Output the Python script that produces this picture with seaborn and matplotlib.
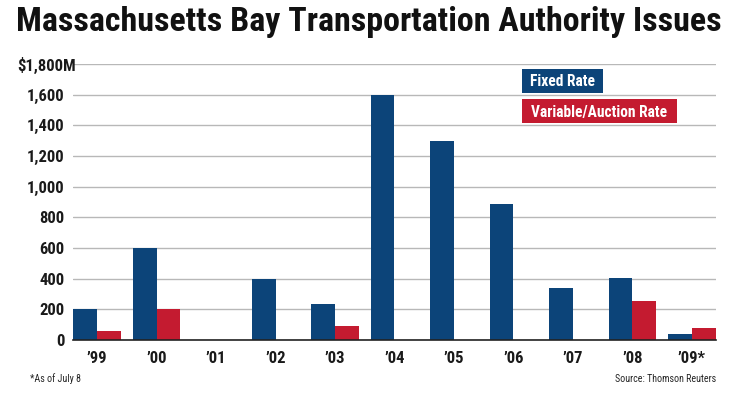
import pandas as pd
import matplotlib.pyplot as plt
import matplotlib.transforms as mtransforms
from matplotlib.patches import Rectangle
import seaborn as sns

# Values ($ millions)
years = ["\u201999", "\u201900", "\u201901", "\u201902", "\u201903", "\u201904",
         "\u201905", "\u201906", "\u201907", "\u201908", "\u201909*"]
fixed_rate = [200, 600, 0, 400, 238, 1600, 1300, 890, 340, 405, 38]
variable_rate = [62, 200, 0, 0, 93, 0, 0, 0, 0, 255, 78]
series = ["Fixed Rate", "Variable/Auction Rate"]
colors = ["#0c4479", "#c41b30"]
y_ticks = [0, 200, 400, 600, 800, 1000, 1200, 1400, 1600, 1800]
y_labels = ["0", "200", "400", "600", "800", "1,000", "1,200", "1,400", "1,600", "$1,800M"]

data = pd.DataFrame({
    "Year": years * 2,
    "Amount": fixed_rate + variable_rate,
    "Type": [series[0]] * len(years) + [series[1]] * len(years),
})

sns.set_style("white")
plt.rcParams["font.family"] = ["Roboto Condensed", "Roboto", "DejaVu Sans"]

W, H = 740, 398
fig = plt.figure(figsize=(W / 100, H / 100), dpi=100)
ax = fig.add_axes([0.0986, 0.1457, 0.8690, 0.6935])

sns.barplot(data=data, x="Year", y="Amount", hue="Type", palette=colors,
            saturation=1, width=0.8, dodge=True, legend=False, ax=ax,
            linewidth=0, zorder=3)

ax.set_xlim(-0.405, 10.405)
ax.set_ylim(0, 1800)
ax.set_yticks(y_ticks)
ax.set_yticklabels(y_labels)
ax.set_xlabel("")
ax.set_ylabel("")
ax.grid(axis="y", color="#b8b8b8", linewidth=1, zorder=0)
ax.tick_params(axis="both", length=0, labelsize=12)
ax.tick_params(axis="y", pad=6)
ax.tick_params(axis="x", pad=8)
for lab in ax.get_xticklabels() + ax.get_yticklabels():
    lab.set_fontweight("bold")
    lab.set_color("#1a1a1a")
# the top label sits further right, as in the reference
top_lab = ax.get_yticklabels()[-1]
top_lab.set_transform(top_lab.get_transform() +
                      mtransforms.ScaledTranslation(11 / 100, 0, fig.dpi_scale_trans))
for side in ["top", "right", "left"]:
    ax.spines[side].set_visible(False)
ax.spines["bottom"].set_color("#222222")
ax.spines["bottom"].set_linewidth(1.2)
ax.spines["bottom"].set_zorder(4)

# legend drawn as coloured boxes with white labels (pixel boxes from the reference)
legend_boxes = [(522, 69, 81, 24), (522, 99, 155, 24)]
for (x0, y0, bw, bh), name, c in zip(legend_boxes, series, colors):
    fig.patches.append(Rectangle((x0 / W, 1 - (y0 + bh) / H), bw / W, bh / H,
                                 transform=fig.transFigure, facecolor=c,
                                 edgecolor="none"))
    fig.text((x0 + bw / 2) / W, 1 - (y0 + bh / 2 + 1) / H, name, color="white",
             fontsize=11.2, fontweight="bold", va="center", ha="center")

fig.text(0.498, 0.944, "Massachusetts Bay Transportation Authority Issues",
         ha="center", va="center", fontsize=24.5, fontweight="bold", color="#111111")
fig.text(0.04, 0.048, "*As of July 8", fontsize=7.2, ha="left", va="center")
fig.text(0.968, 0.048, "Source: Thomson Reuters", fontsize=7.2, ha="right", va="center")

fig.savefig("out.png", dpi=100)
